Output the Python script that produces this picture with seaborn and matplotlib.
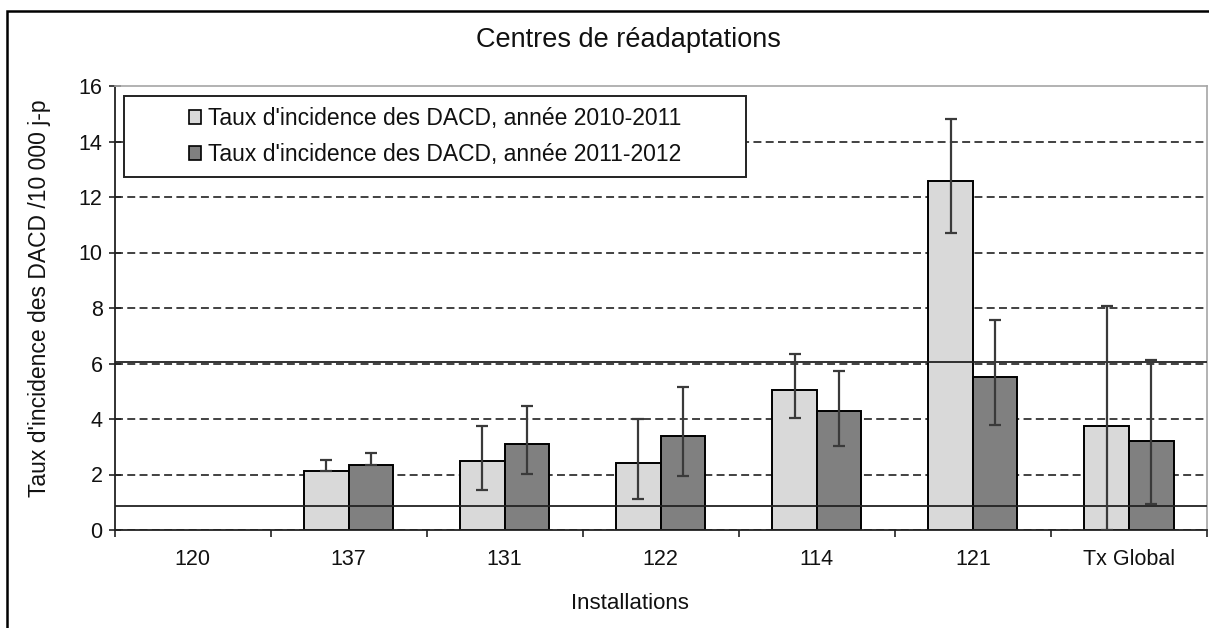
import numpy as np
import pandas as pd
import matplotlib
matplotlib.use("Agg")
import matplotlib.pyplot as plt
from matplotlib.patches import Rectangle
import seaborn as sns

# ---- data ----
categories = ["120", "137", "131", "122", "114", "121", "Tx Global"]
series_names = ["Taux d'incidence des DACD, année 2010-2011",
                "Taux d'incidence des DACD, année 2011-2012"]
rate_2010 = [np.nan, 2.14, 2.49, 2.41, 5.05, 12.57, 3.73]
rate_2011 = [np.nan, 2.35, 3.09, 3.39, 4.30, 5.50, 3.21]
upper_2010 = [np.nan, 2.53, 3.73, 3.99, 6.35, 14.80, 8.09]
lower_2010 = [np.nan, 2.14, 1.44, 1.11, 4.02, 10.71, 0.00]
upper_2011 = [np.nan, 2.77, 4.47, 5.15, 5.73, 7.56, 6.11]
lower_2011 = [np.nan, 2.35, 2.01, 1.96, 3.04, 3.78, 0.93]
threshold_low = 0.87
threshold_high = 6.06
y_ticks = [0, 2, 4, 6, 8, 10, 12, 14, 16]

title = "Centres de réadaptations"
xlabel = "Installations"
ylabel = "Taux d'incidence des DACD /10 000 j-p"

rows = []
for cat, v1, v2 in zip(categories, rate_2010, rate_2011):
    rows.append({"cat": cat, "serie": series_names[0], "val": v1})
    rows.append({"cat": cat, "serie": series_names[1], "val": v2})
df = pd.DataFrame(rows).dropna()

errs = {
    series_names[0]: (rate_2010, lower_2010, upper_2010),
    series_names[1]: (rate_2011, lower_2011, upper_2011),
}

sns.set_theme(style="white")
plt.rcParams["font.family"] = ["Liberation Sans", "DejaVu Sans"]

fig = plt.figure(figsize=(12.09, 6.28), dpi=100)
ax = fig.add_axes([114.5 / 1209, 1 - 530 / 628, 1092.5 / 1209, 444 / 628])

palette = {series_names[0]: "#D9D9D9", series_names[1]: "#808080"}
sns.barplot(data=df, x="cat", y="val", hue="serie", order=categories,
            hue_order=series_names, palette=palette, width=0.571, gap=0,
            edgecolor="black", linewidth=1.4, errorbar=None, ax=ax,
            saturation=1)

# error bars
for cont, name in zip(ax.containers, series_names):
    vals, lows, ups = errs[name]
    for bar in cont:
        cx = bar.get_x() + bar.get_width() / 2
        idx = int(round(cx))
        v = vals[idx]
        if np.isnan(v):
            continue
        ax.errorbar(cx, v, yerr=[[v - lows[idx]], [ups[idx] - v]],
                    fmt="none", ecolor="#3a3a3a", elinewidth=1.6,
                    capsize=4.5, capthick=1.6, zorder=4)

# threshold lines
ax.axhline(threshold_low, color="#222222", lw=1.3, zorder=3.5)
ax.axhline(threshold_high, color="#222222", lw=1.3, zorder=3.5)

ax.set_xlim(-0.5, len(categories) - 0.5)
ax.set_ylim(0, 16)
ax.set_yticks(y_ticks)
ax.set_yticklabels([str(t) for t in y_ticks])

# grid
ax.set_axisbelow(True)
ax.yaxis.grid(True, color="#333333", lw=1.3, linestyle=(0, (4.4, 2.4)))
ax.xaxis.grid(False)
for gl, t in zip(ax.yaxis.get_gridlines(), y_ticks):
    if t == 16:
        gl.set_visible(False)

# spines
for s in ["left", "bottom"]:
    ax.spines[s].set_color("#222222")
    ax.spines[s].set_linewidth(1.3)
for s in ["top", "right"]:
    ax.spines[s].set_color("#A6A6A6")
    ax.spines[s].set_linewidth(1.2)
    ax.spines[s].set_visible(True)

# ticks
ax.tick_params(axis="y", which="major", direction="inout", length=9,
               width=1.2, color="#222222", labelsize=15.5, pad=4,
               left=True, labelcolor="#111111")
ax.tick_params(axis="x", which="major", length=0, labelsize=15.5, pad=14,
               labelcolor="#111111")
ax.set_xticks(np.arange(-0.5, len(categories)), minor=True)
ax.tick_params(axis="x", which="minor", direction="out", length=5,
               width=1.2, color="#222222", bottom=True)

ax.set_xlabel(xlabel, fontsize=16, color="#111111")
ax.xaxis.set_label_coords(0.472, -0.142)
ax.set_ylabel(ylabel, fontsize=16.5, color="#111111")
ax.yaxis.set_label_coords(-0.058, 0.521)

fig.text(628 / 1209, 1 - 40 / 628, title, ha="center", va="center",
         fontsize=19.5, color="#111111")

# legend
leg_old = ax.get_legend()
if leg_old is not None:
    leg_old.remove()
handles = [Rectangle((0, 0), 1, 1, facecolor=palette[n], edgecolor="black",
                     linewidth=1.2) for n in series_names]
box = Rectangle((0.0087, 0.795), 0.5693, 0.1824, transform=ax.transAxes,
                facecolor="white", edgecolor="#222222", linewidth=1.4,
                zorder=5)
ax.add_patch(box)
leg = ax.legend(handles, series_names, loc="center",
                bbox_to_anchor=(0.2934, 0.886), frameon=False,
                fontsize=16.5, handlelength=0.55, handleheight=0.55,
                handletextpad=0.3, labelspacing=0.55, borderaxespad=0)
leg.set_zorder(6)
for t in leg.get_texts():
    t.set_color("#111111")

# outer frame
frame = Rectangle((7 / 1209, -0.1), 1.2, 0.1 + (1 - 11 / 628),
                  transform=fig.transFigure, facecolor="none",
                  edgecolor="black", linewidth=1.8, zorder=10)
fig.patches.append(frame)

fig.savefig("out.png", dpi=100, facecolor="white")
